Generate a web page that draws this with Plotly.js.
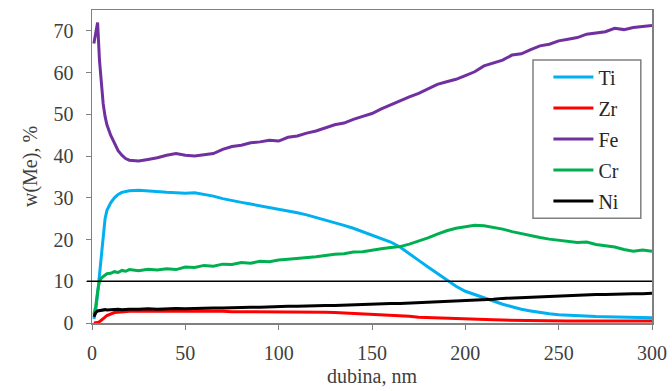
<!DOCTYPE html>
<html>
<head>
<meta charset="utf-8">
<script src="https://cdn.plot.ly/plotly-3.0.1.min.js"></script>
<style>html,body{margin:0;padding:0;background:#fff;}#chart{width:672px;height:391px;}</style>
</head>
<body>
<div id="chart"></div>
<script>
const depth = [1,2,3,4,5,6,7,8,10,12,14,16,18,20,
  25,30,35,40,45,50,55,60,65,70,75,80,85,90,95,100,105,110,115,120,125,130,135,140,145,150,
  155,160,165,170,175,180,185,190,195,200,205,210,215,220,225,230,235,240,245,250,
  255,260,265,270,275,280,285,290,295,300];

const ti = [1,3,7,12,17,22,25,27,28.8,30,30.8,31.3,31.5,31.7,
  31.8,31.6,31.5,31.3,31.2,31.1,31.2,30.8,30.4,29.8,29.3,28.9,28.5,28.1,27.7,27.3,26.9,26.4,25.9,25.3,24.7,24.1,23.4,22.7,21.9,21.1,
  20.3,19.4,18.2,16.7,15.0,13.4,11.8,10.2,8.8,7.6,6.8,6.1,5.3,4.5,3.9,3.3,2.9,2.5,2.2,2.0,
  1.85,1.75,1.65,1.55,1.5,1.45,1.4,1.35,1.3,1.25];

const zr = [0,0,0.1,0.3,0.6,1.0,1.4,1.8,2.2,2.5,2.6,2.7,2.8,2.8,
  2.9,2.9,2.9,2.9,2.8,2.8,2.8,2.8,2.8,2.8,2.7,2.7,2.7,2.7,2.7,2.7,2.6,2.6,2.6,2.6,2.6,2.5,2.4,2.3,2.2,2.1,
  2.0,1.9,1.7,1.6,1.4,1.3,1.2,1.1,1.0,0.9,0.85,0.8,0.75,0.7,0.65,0.6,0.6,0.55,0.55,0.5,
  0.5,0.5,0.5,0.45,0.45,0.45,0.45,0.45,0.45,0.45];

const fe = [67,70,72,63,57,52.5,49.5,47.5,45,43,41.3,40.2,39.4,39,
  38.8,39.2,39.6,40.2,40.6,40.2,40,40.3,40.6,41.6,42.3,42.6,43.2,43.4,43.8,43.6,44.5,44.8,45.5,46,46.8,47.5,47.9,48.8,49.5,50.2,
  51.3,52.3,53.2,54.2,55,56,57.2,57.8,58.4,59.3,60.2,61.6,62.3,63,64.2,64.5,65.5,66.4,66.8,67.6,
  68,68.4,69.2,69.5,69.8,70.6,70.3,70.8,71,71.3];

const cr = [2,4,7.5,10,10.8,11.2,11.5,11.8,11.9,12.3,12.1,12.6,12.4,12.8,
  12.5,12.9,12.7,13,12.8,13.4,13.3,13.8,13.6,14.1,14,14.5,14.3,14.8,14.7,15.1,15.3,15.5,15.6,15.9,16.2,16.5,16.6,17,17.1,17.5,
  17.8,18.1,18.3,18.9,19.6,20.4,21.3,22.1,22.7,23.1,23.4,23.3,22.9,22.5,21.9,21.4,20.9,20.5,20.1,19.8,
  19.6,19.3,19.4,18.8,18.5,18.2,17.6,17.2,17.5,17.2];

const ni = [1.5,2.5,2.9,3,3.1,3.1,3.2,3.1,3.2,3.2,3.3,3.2,3.3,3.3,
  3.3,3.4,3.3,3.4,3.5,3.4,3.5,3.5,3.6,3.6,3.7,3.7,3.8,3.8,3.9,3.9,4,4,4.1,4.1,4.2,4.2,4.3,4.4,4.4,4.5,
  4.6,4.7,4.7,4.8,4.9,5,5.1,5.2,5.2,5.3,5.4,5.6,5.7,5.9,6,6.1,6.2,6.3,6.4,6.5,
  6.6,6.6,6.7,6.8,6.8,6.9,6.9,7,7,7.1];

const names = ['Ti','Zr','Fe','Cr','Ni'];
const series = [ti, zr, fe, cr, ni];
const colors = ['#00B0F0','#FF0000','#7030A0','#00B050','#000000'];
const refLine = 10;
const xTicks = [0,50,100,150,200,250,300];
const yTicks = [0,10,20,30,40,50,60,70];

const FONT = '"Liberation Serif", "Times New Roman", Times, serif';

const traces = series.map((s,i)=>({
  x: depth, y: s, name: names[i], type:'scatter', mode:'lines',
  line:{color:colors[i], width:3}, legendgroup:'g'+i
}));

const layout = {
  width:672, height:391,
  margin:{l:92, r:20, t:10, b:68},
  paper_bgcolor:'#fff', plot_bgcolor:'#fff',
  font:{family:FONT, size:20, color:'#404040'},
  showlegend:true,
  legend:{x:0.815, y:0.848, xanchor:'left', yanchor:'top', bgcolor:'rgba(0,0,0,0)',
    borderwidth:0, font:{family:FONT, size:20, color:'#262626'},
    tracegroupgap:2, traceorder:'grouped', itemwidth:40},
  xaxis:{range:[0,300], tickvals:xTicks, ticks:'outside', ticklen:5, tickcolor:'#808080',
    showline:true, linecolor:'#808080', linewidth:1.5, mirror:true, showgrid:false, zeroline:false,
    ticklabelstandoff:6,
    title:{text:'dubina, nm', font:{family:FONT, size:20, color:'#404040'}, standoff:6}},
  yaxis:{range:[0,75], tickvals:yTicks, ticks:'outside', ticklen:5, tickcolor:'#808080',
    showline:true, linecolor:'#808080', linewidth:1.5, mirror:true, showgrid:false, zeroline:false,
    ticklabelstandoff:8,
    title:{text:'w(Me), %', font:{family:FONT, size:20, color:'#404040'}, standoff:10}},
  shapes:[
    {type:'line', xref:'paper', yref:'y', x0:-0.009, x1:1, y0:refLine, y1:refLine,
      line:{color:'#000', width:1.5}},
    {type:'rect', xref:'paper', yref:'paper', x0:0.7875, x1:0.980, y0:0.335, y1:0.840,
      fillcolor:'#fff', line:{color:'#808080', width:1.5}, layer:'above'}
  ]
};

Plotly.newPlot('chart', traces, layout, {displayModeBar:false, staticPlot:true});
</script>
</body>
</html>
